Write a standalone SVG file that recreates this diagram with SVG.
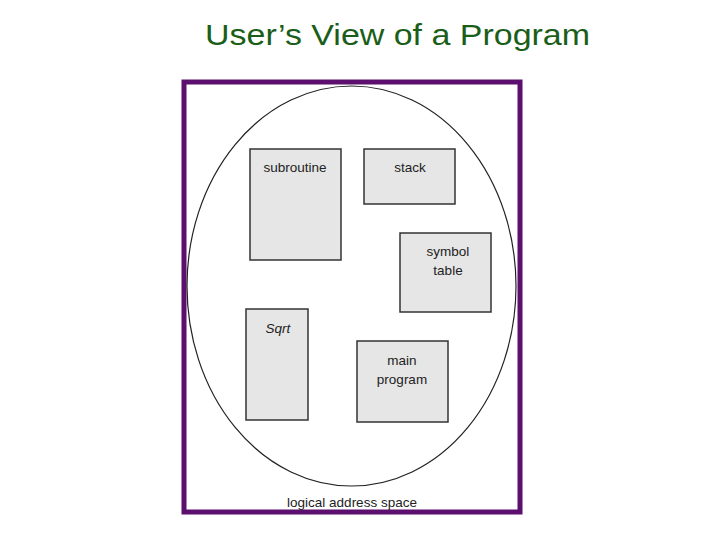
<svg xmlns="http://www.w3.org/2000/svg" width="720" height="540" viewBox="0 0 720 540">
<style>
.b{fill:#e6e6e6;stroke:#333;stroke-width:1.5}
.t{font-family:"Liberation Sans",Arial,sans-serif;font-size:13.5px;fill:#222;text-anchor:middle}
</style>
<rect width="720" height="540" fill="#fff"/>
<text x="205" y="45" font-family="Liberation Sans,Arial,sans-serif" font-size="30" fill="#1a5e1a" textLength="385" lengthAdjust="spacingAndGlyphs">User’s View of a Program</text>
<rect x="184" y="82" width="336" height="430" fill="#fff" stroke="#5c0f6e" stroke-width="5"/>
<g id="space"><ellipse cx="351.5" cy="286" rx="164.5" ry="200" fill="none" stroke="#222" stroke-width="1.2"/>
<text class="t" x="352" y="507">logical address space</text></g>
<g id="subroutine"><rect class="b" x="250" y="149" width="91" height="111"/><text class="t" x="295" y="172">subroutine</text></g>
<g id="stack"><rect class="b" x="364" y="149" width="91" height="55"/><text class="t" x="410" y="172">stack</text></g>
<g id="symbol"><rect class="b" x="400" y="233" width="91" height="79"/><text class="t" x="448" y="256">symbol</text><text class="t" x="448" y="275">table</text></g>
<g id="sqrt"><rect class="b" x="246" y="309" width="62" height="111"/><text class="t" x="278" y="333" font-style="italic">Sqrt</text></g>
<g id="main"><rect class="b" x="357" y="341" width="91" height="81"/><text class="t" x="402" y="365">main</text><text class="t" x="402" y="384">program</text></g>
<g id="connectors"/>
</svg>
